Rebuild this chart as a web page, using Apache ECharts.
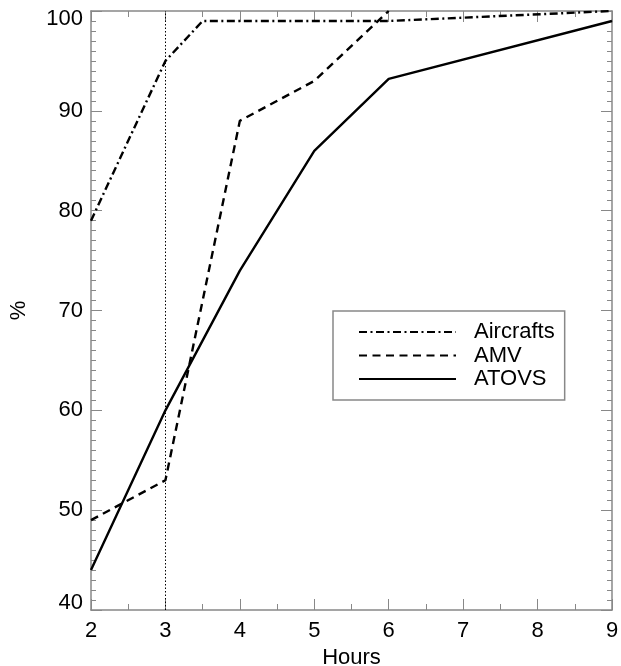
<!DOCTYPE html>
<html>
<head>
<meta charset="utf-8">
<script src="https://cdn.jsdelivr.net/npm/echarts@6/dist/echarts.min.js"></script>
<style>
  html, body { margin: 0; padding: 0; background: #fff; }
  #chart { width: 621px; height: 666px; }
</style>
</head>
<body>
<div id="chart"></div>
<script>
// Cumulative share (%) of observations received, by hours after nominal time
const hoursAircrafts = [2, 3, 3.5, 6, 9];
const pctAircrafts   = [79, 95, 99, 99, 100];

const hoursAMV = [2, 3, 4, 5, 6];
const pctAMV   = [49, 53, 89, 93, 100];

const hoursATOVS = [2, 3, 4, 5, 6, 9];
const pctATOVS   = [44, 60, 74, 86, 93.2, 99];

const seriesNames = ['Aircrafts', 'AMV', 'ATOVS'];
const markerHour = 3;

const FONT = "'Liberation Sans', Arial, Helvetica, sans-serif";
const FRAME = '#888888';
const FS = 22;
const Y_MIN = 40, Y_MAX = 100;

function pairs(xs, ys) {
  return xs.map((x, i) => [x, ys[i]]);
}

function frameAxis(extra) {
  return Object.assign({
    type: 'value',
    axisLine: { show: true, onZero: false, lineStyle: { color: FRAME, width: 1.5 } },
    axisTick: { show: true, inside: true, length: 11, lineStyle: { color: FRAME, width: 1 } },
    splitLine: { show: false },
    axisLabel: { show: false }
  }, extra);
}

const chart = echarts.init(document.getElementById('chart'), null, { renderer: 'canvas' });

chart.setOption({
  animation: false,
  backgroundColor: '#ffffff',
  textStyle: { fontFamily: FONT },
  grid: { left: 91, right: 9, top: 11, bottom: 56, containLabel: false, outerBoundsMode: 'none' },
  xAxis: [
    frameAxis({
      position: 'bottom', min: 2, max: 9, interval: 1,
      minorTick: { show: true, splitNumber: 2, length: 6, lineStyle: { color: FRAME, width: 1 } },
      axisLabel: { show: true, color: '#000', fontSize: FS, fontFamily: FONT, margin: 10 },
      name: 'Hours', nameLocation: 'middle', nameGap: 34,
      nameTextStyle: { color: '#000', fontSize: FS, fontFamily: FONT }
    }),
    frameAxis({
      position: 'top', min: 2, max: 9, interval: 1,
      minorTick: { show: true, splitNumber: 2, length: 6, lineStyle: { color: FRAME, width: 1 } }
    })
  ],
  yAxis: [
    frameAxis({
      position: 'left', min: Y_MIN, max: Y_MAX, interval: 10,
      minorTick: { show: true, splitNumber: 10, length: 5, lineStyle: { color: FRAME, width: 1 } },
      axisLabel: {
        show: true, color: '#000', fontSize: FS, fontFamily: FONT, margin: 8,
        // end labels are nudged inward so they stay within the frame
        formatter: function (v) {
          if (v === Y_MAX) return '{hi|' + v + '}';
          if (v === Y_MIN) return '{lo|' + v + '}';
          return String(v);
        },
        rich: {
          hi: { fontSize: FS, fontFamily: FONT, color: '#000', padding: [16, 0, 0, 0] },
          lo: { fontSize: FS, fontFamily: FONT, color: '#000', padding: [0, 0, 14, 0] }
        }
      },
      name: '%', nameLocation: 'middle', nameGap: 61, nameRotate: 90,
      nameTextStyle: { color: '#000', fontSize: FS, fontFamily: FONT }
    }),
    frameAxis({
      position: 'right', min: Y_MIN, max: Y_MAX, interval: 10,
      minorTick: { show: true, splitNumber: 10, length: 5, lineStyle: { color: FRAME, width: 1 } }
    })
  ],
  legend: {
    orient: 'vertical',
    left: 333,
    top: 311,
    data: seriesNames,
    itemWidth: 97,
    itemHeight: 20,
    itemGap: 1.5,
    padding: [10, 10, 10, 25],
    borderColor: FRAME,
    borderWidth: 1.5,
    backgroundColor: '#ffffff',
    itemStyle: { opacity: 0 },
    lineStyle: { width: 2 },
    textStyle: { color: '#000', fontSize: FS, fontFamily: FONT, lineHeight: 20, padding: [0, 0, 0, 13] }
  },
  series: [
    {
      name: 'Aircrafts',
      type: 'line',
      data: pairs(hoursAircrafts, pctAircrafts),
      symbol: 'none',
      lineStyle: { color: '#000', width: 2.4, type: [8, 3.5, 2, 3.5] },
      itemStyle: { color: '#000' },
      z: 3,
      markLine: {
        silent: true,
        symbol: 'none',
        label: { show: false },
        lineStyle: { color: '#000', width: 1, type: [1.5, 2] },
        data: [{ xAxis: markerHour }]
      }
    },
    {
      name: 'AMV',
      type: 'line',
      data: pairs(hoursAMV, pctAMV),
      symbol: 'none',
      lineStyle: { color: '#000', width: 2.4, type: [8, 5.5] },
      itemStyle: { color: '#000' },
      z: 3
    },
    {
      name: 'ATOVS',
      type: 'line',
      data: pairs(hoursATOVS, pctATOVS),
      symbol: 'none',
      lineStyle: { color: '#000', width: 2.4, type: 'solid' },
      itemStyle: { color: '#000' },
      z: 3
    }
  ]
});
</script>
</body>
</html>
